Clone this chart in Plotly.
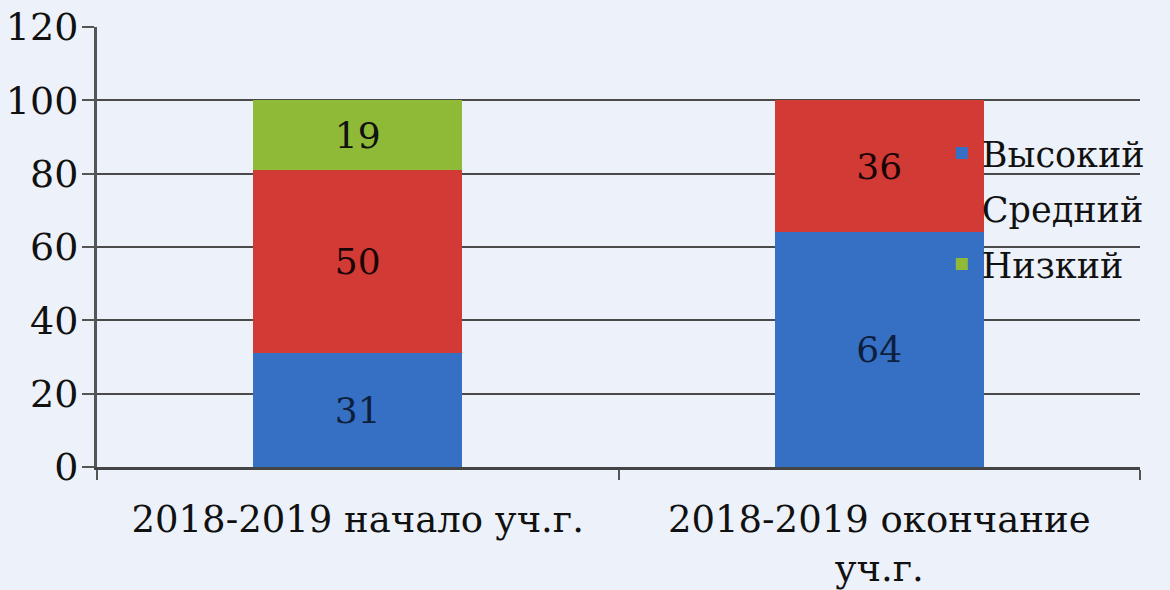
import plotly.graph_objects as go

categories = ["2018-2019 начало уч.г.", "2018-2019 окончание<br>уч.г."]
series_names = ["Высокий", "Средний", "Низкий"]
vysokiy = [31, 64]
sredniy = [50, 36]
nizkiy = [19, None]
colors = ["#3670c4", "#d23a35", "#8fba38"]
text_colors = ["#0d1f3c", "#1a0505", "#111111"]

SERIF = "DejaVu Serif"

fig = go.Figure()
for name, vals, col, tc in zip(series_names, [vysokiy, sredniy, nizkiy], colors, text_colors):
    fig.add_trace(go.Bar(
        x=categories, y=vals, name=name, legendgroup=name,
        marker=dict(color=col, line=dict(width=0)),
        text=[("" if v is None else str(v)) for v in vals],
        textposition="inside", insidetextanchor="middle",
        textfont=dict(family=SERIF, size=36, color=tc),
        constraintext="none",
    ))

bg = "#edf1f9"
fig.update_layout(
    barmode="stack", bargap=0.6,
    width=1170, height=590,
    paper_bgcolor=bg, plot_bgcolor=bg,
    margin=dict(l=97, r=30, t=27, b=123, autoexpand=False),
    font=dict(family=SERIF, size=38, color="#111111"),
    legend=dict(
        x=0.81, y=0.78, xanchor="left", yanchor="top",
        bgcolor="rgba(0,0,0,0)", traceorder="grouped",
        font=dict(family=SERIF, size=35, color="#111111"),
        itemwidth=30, tracegroupgap=7,
    ),
    showlegend=True,
)
fig.update_yaxes(
    range=[0, 120], dtick=20, showgrid=True, gridcolor="#4a4a4a", gridwidth=2,
    showline=True, linecolor="#555555", linewidth=3,
    ticks="outside", ticklen=12, tickcolor="#555555", tickwidth=2,
    tickfont=dict(family=SERIF, size=38, color="#111111"),
    ticklabelstandoff=-4,
    zeroline=False, automargin=False,
)
fig.update_xaxes(
    showline=True, linecolor="#444444", linewidth=3,
    ticks="outside", tickson="boundaries", ticklen=10, tickcolor="#555555", tickwidth=2,
    tickfont=dict(family=SERIF, size=37, color="#111111"),
    ticklabelstandoff=18,
    automargin=False,
)
fig.write_html(
    "out.html",
    config={"displayModeBar": False},
    post_script="document.body.style.margin='0';document.body.style.background='%s';" % bg,
)
